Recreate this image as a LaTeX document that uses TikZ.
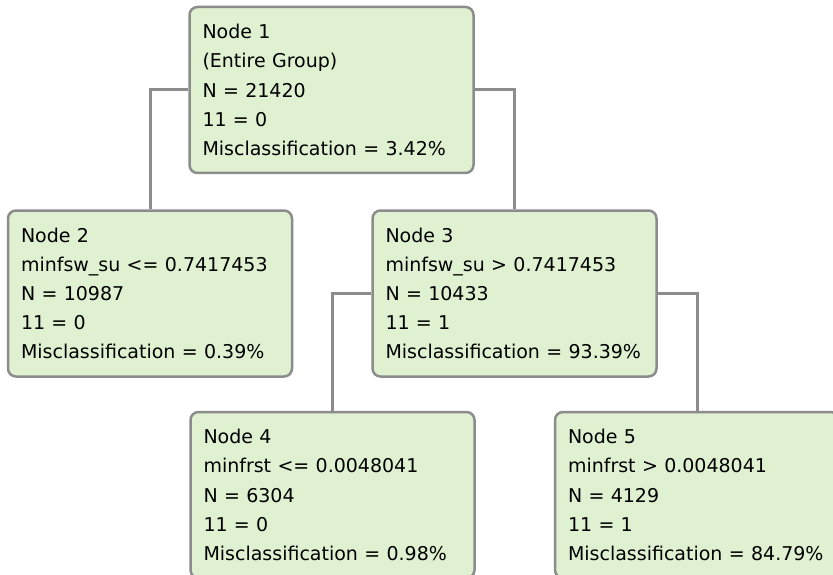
\documentclass[tikz,border=0pt]{standalone}
\usepackage{fontspec}
\setmainfont{DejaVu Sans}
\usetikzlibrary{positioning}

\definecolor{leafgreen}{RGB}{223,241,208}
\definecolor{edgegray}{RGB}{140,140,140}

\begin{document}
\begin{tikzpicture}[x=1pt,y=-1pt,node distance=364.5pt]
	\tikzstyle{split}=[draw=edgegray, line width=2.5pt, fill=leafgreen, rounded corners=8pt,
		minimum width=284pt, minimum height=166pt, inner xsep=13pt, inner ysep=0pt,
		text width=258pt, align=left, font=\fontsize{19}{29.2}\selectfont]
	\tikzstyle{link}=[draw=edgegray, line width=3pt]

    \useasboundingbox (0,0) rectangle (833,575);
    \clip (0,0) rectangle (833,575);

    \node [split] (n1) at (331.5,90) {Node 1\\(Entire Group)\\N = 21420\\11 = 0\\Misclassification = 3.42\%};
    \node [split] (n2) at (150,293.5) {Node 2\\minfsw\_su <= 0.7417453\\N = 10987\\11 = 0\\Misclassification = 0.39\%};
    \node [split] (n3) [right of=n2] {Node 3\\minfsw\_su > 0.7417453\\N = 10433\\11 = 1\\Misclassification = 93.39\%};
    \node [split] (n4) at (332.5,495) {Node 4\\minfrst <= 0.0048041\\N = 6304\\11 = 0\\Misclassification = 0.98\%};
    \node [split] (n5) [right of=n4] {Node 5\\minfrst > 0.0048041\\N = 4129\\11 = 1\\Misclassification = 84.79\%};

    \path[link] (n1.west) -| (n2.north);
    \path[link] (n1.east) -| (n3.north);
    \path[link] (n3.west) -| (n4.north);
    \path[link] (n3.east) -| (n5.north);
\end{tikzpicture}
\end{document}
